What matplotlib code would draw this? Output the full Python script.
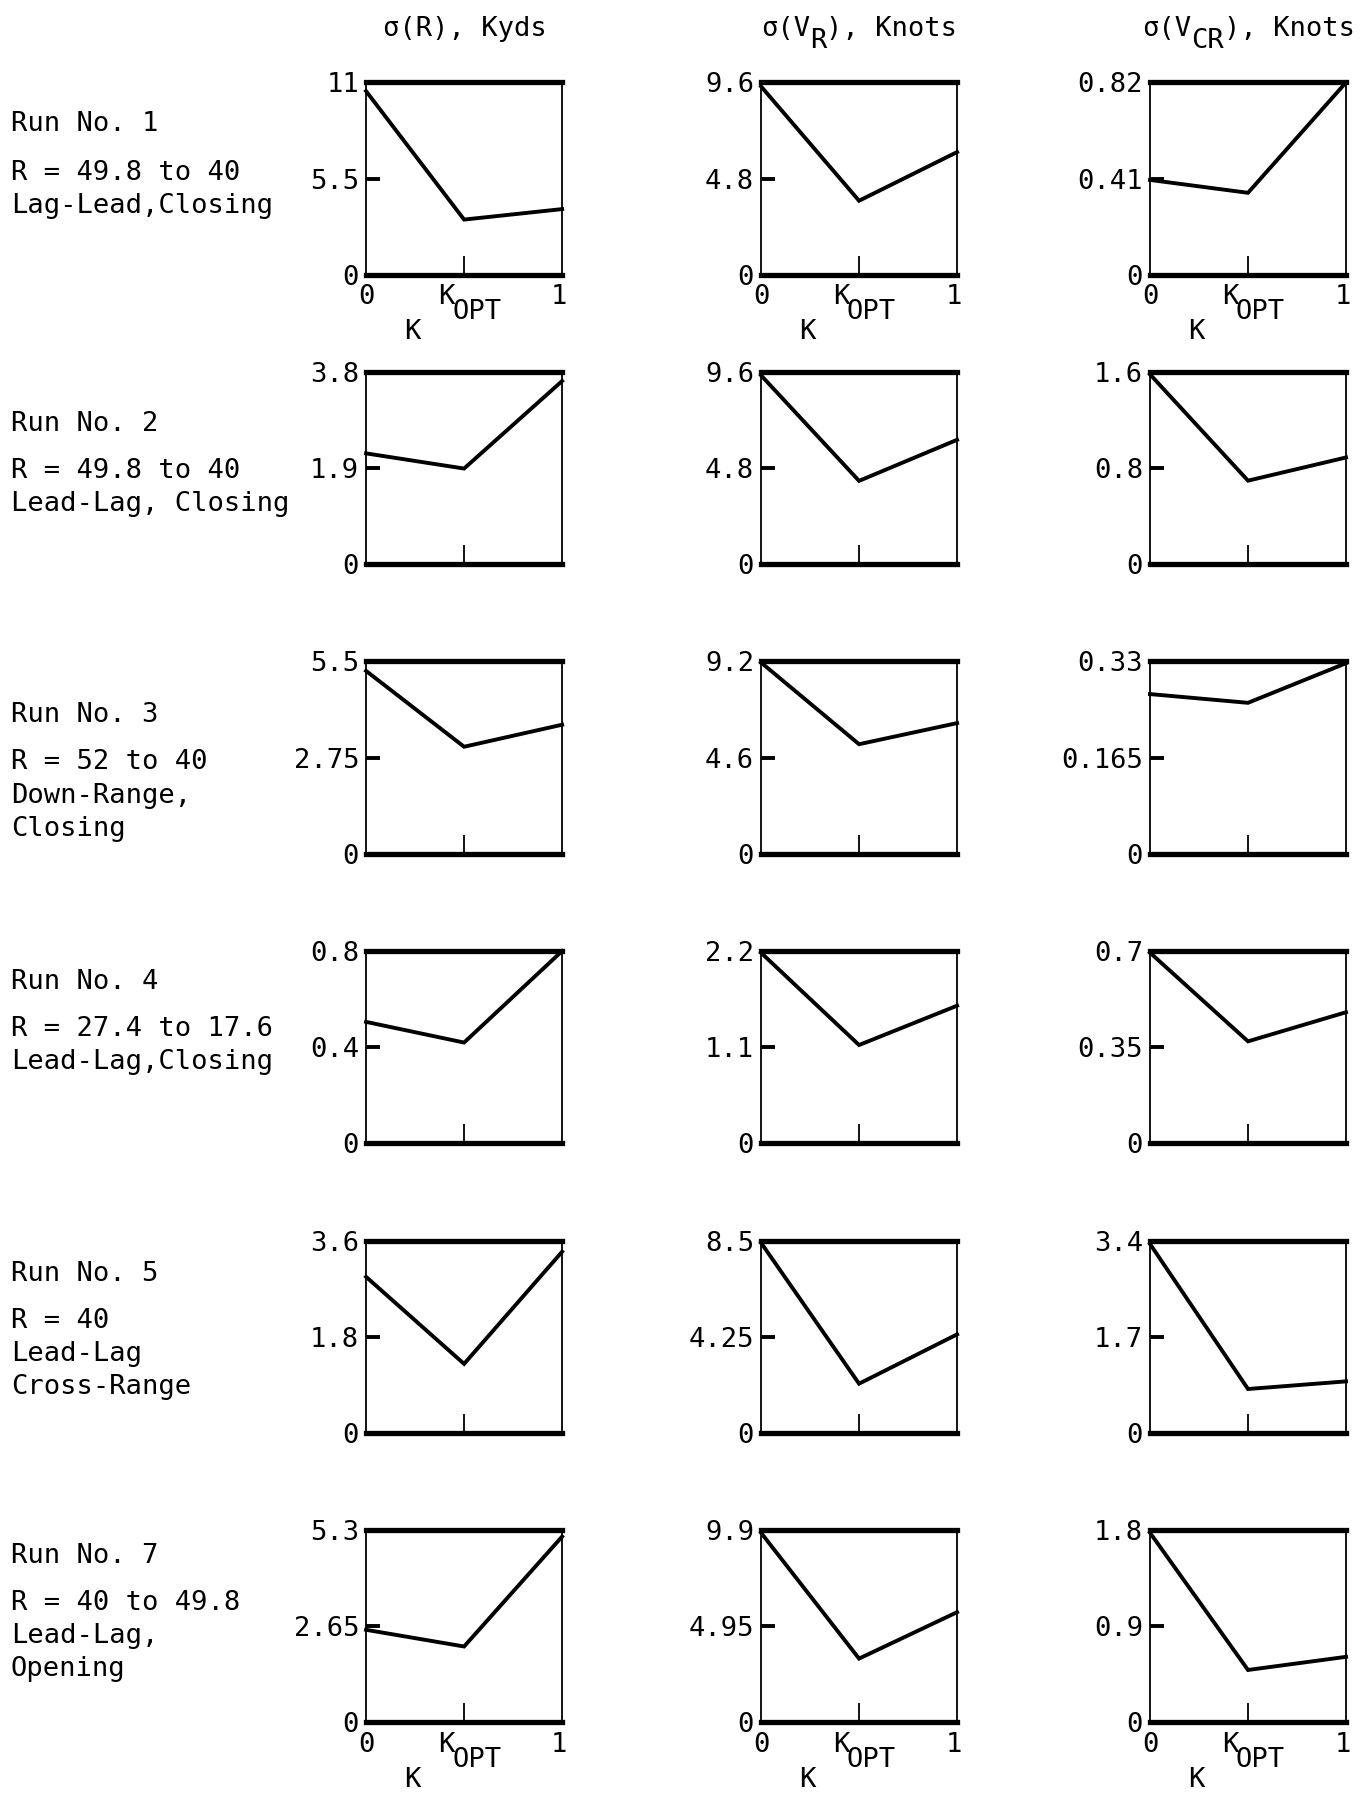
import matplotlib
matplotlib.use("Agg")
import matplotlib.pyplot as plt
from matplotlib.transforms import ScaledTranslation

plt.rcParams['font.family'] = ['DejaVu Sans Mono', 'DejaVu Sans']

# gain settings on the x axis: K = 0, K_OPT, K = 1
k_values = [0.0, 0.5, 1.0]
k_opt = 0.5

run_names = ["Run No. 1", "Run No. 2", "Run No. 3", "Run No. 4", "Run No. 5", "Run No. 7"]
run_desc = [
    "R = 49.8 to 40\nLag-Lead,Closing",
    "R = 49.8 to 40\nLead-Lag, Closing",
    "R = 52 to 40\nDown-Range,\nClosing",
    "R = 27.4 to 17.6\nLead-Lag,Closing",
    "R = 40\nLead-Lag\nCross-Range",
    "R = 40 to 49.8\nLead-Lag,\nOpening",
]

# column headings: (before subscript, subscript, after subscript)
col_titles = [("σ(R), Kyds", "", ""), ("σ(V", "R", "), Knots"), ("σ(V", "CR", "), Knots")]

# sigma of range (Kyds)
sig_r = [
    [10.5, 3.15, 3.75],
    [2.19, 1.89, 3.62],
    [5.23, 3.06, 3.69],
    [0.505, 0.419, 0.80],
    [2.92, 1.29, 3.39],
    [2.55, 2.09, 5.12],
]
sig_r_max = [11, 3.8, 5.5, 0.8, 3.6, 5.3]
sig_r_ticks = [["0", "5.5", "11"], ["0", "1.9", "3.8"], ["0", "2.75", "5.5"],
               ["0", "0.4", "0.8"], ["0", "1.8", "3.6"], ["0", "2.65", "5.3"]]

# sigma of range rate (knots)
sig_vr = [
    [9.40, 3.69, 6.12],
    [9.43, 4.16, 6.21],
    [9.15, 5.24, 6.25],
    [2.18, 1.124, 1.574],
    [8.40, 2.17, 4.35],
    [9.76, 3.28, 5.67],
]
sig_vr_max = [9.6, 9.6, 9.2, 2.2, 8.5, 9.9]
sig_vr_ticks = [["0", "4.8", "9.6"], ["0", "4.8", "9.6"], ["0", "4.6", "9.2"],
                ["0", "1.1", "2.2"], ["0", "4.25", "8.5"], ["0", "4.95", "9.9"]]

# sigma of cross-range rate (knots)
sig_vcr = [
    [0.404, 0.349, 0.82],
    [1.58, 0.695, 0.888],
    [0.274, 0.259, 0.327],
    [0.694, 0.371, 0.477],
    [3.34, 0.774, 0.909],
    [1.775, 0.49, 0.613],
]
sig_vcr_max = [0.82, 1.6, 0.33, 0.7, 3.4, 1.8]
sig_vcr_ticks = [["0", "0.41", "0.82"], ["0", "0.8", "1.6"], ["0", "0.165", "0.33"],
                 ["0", "0.35", "0.7"], ["0", "1.7", "3.4"], ["0", "0.9", "1.8"]]

columns = [
    (sig_r, sig_r_max, sig_r_ticks),
    (sig_vr, sig_vr_max, sig_vr_ticks),
    (sig_vcr, sig_vcr_max, sig_vcr_ticks),
]

# layout (figure fractions)
col_left = [0.2672, 0.5555, 0.8394]
ax_w = 0.1431
ax_h = 0.1071
top_y0 = 0.8470
row_step = 0.1613
run_label_y = [108, 370, 625, 858, 1113, 1359]
desc_y = [151, 411, 666, 899, 1154, 1400]
FS = 19.5
CHAR_W = 0.602 * FS  # monospace advance, points

fig = plt.figure(figsize=(13.7, 17.95), dpi=100)


def shifted(dx_pt, dy_pt):
    return fig.transFigure + ScaledTranslation(dx_pt / 72, dy_pt / 72, fig.dpi_scale_trans)


for c, (vals, ymax, ticks) in enumerate(columns):
    for r in range(len(run_names)):
        ax = fig.add_axes([col_left[c], top_y0 - r * row_step, ax_w, ax_h])
        ax.plot(k_values, vals[r], color='black', lw=2.8, solid_joinstyle='miter',
                clip_on=False)
        ax.set_xlim(0, 1)
        ax.set_ylim(0, ymax[r])
        for side in ['top', 'bottom']:
            ax.spines[side].set_linewidth(3.8)
        for side in ['left', 'right']:
            ax.spines[side].set_linewidth(1.3)

        ax.set_yticks([0, ymax[r] / 2, ymax[r]])
        ax.set_yticklabels(ticks[r], fontsize=FS)
        ax.tick_params(axis='y', direction='in', length=10, width=2.8, pad=5)
        ax.set_xticks([k_opt])
        ax.tick_params(axis='x', direction='in', length=14, width=1.3,
                       labelbottom=False)

        if r == 0 or r == len(run_names) - 1:
            trans = ax.get_xaxis_transform()
            ax.annotate('0', xy=(0, 0), xycoords=trans, xytext=(0, -16),
                        textcoords='offset points', ha='center', va='center', fontsize=FS)
            ax.annotate('1', xy=(1, 0), xycoords=trans, xytext=(-2, -16),
                        textcoords='offset points', ha='center', va='center', fontsize=FS)
            ax.annotate('K', xy=(k_opt, 0), xycoords=trans, xytext=(-13, -16),
                        textcoords='offset points', ha='center', va='center', fontsize=FS)
            ax.annotate('OPT', xy=(k_opt, 0), xycoords=trans, xytext=(9, -27),
                        textcoords='offset points', ha='center', va='center', fontsize=FS)
            ax.text(0.235, -0.30, 'K', transform=ax.transAxes, ha='center',
                    va='center', fontsize=FS)

    # heading with a full-size, lowered subscript, laid out in monospace cells
    head, sub, tail = col_titles[c]
    n = len(head) + len(sub) + len(tail)
    xc = col_left[c] + ax_w / 2
    x0 = -n / 2 * CHAR_W
    fig.text(xc, 0.984, head, ha='left', va='center', fontsize=FS,
             transform=shifted(x0, 0))
    if sub:
        fig.text(xc, 0.984, sub, ha='left', va='center', fontsize=FS,
                 transform=shifted(x0 + len(head) * CHAR_W, -9))
        fig.text(xc, 0.984, tail, ha='left', va='center', fontsize=FS,
                 transform=shifted(x0 + (len(head) + len(sub)) * CHAR_W, 0))

for r in range(len(run_names)):
    fig.text(0.008, 1 - run_label_y[r] / 1568, run_names[r], ha='left', va='center',
             fontsize=FS)
    for j, line in enumerate(run_desc[r].split('\n')):
        fig.text(0.008, 1 - (desc_y[r] + 29 * j) / 1568, line, ha='left',
                 va='center', fontsize=FS)

fig.savefig('out.png', dpi=100, facecolor='white')
